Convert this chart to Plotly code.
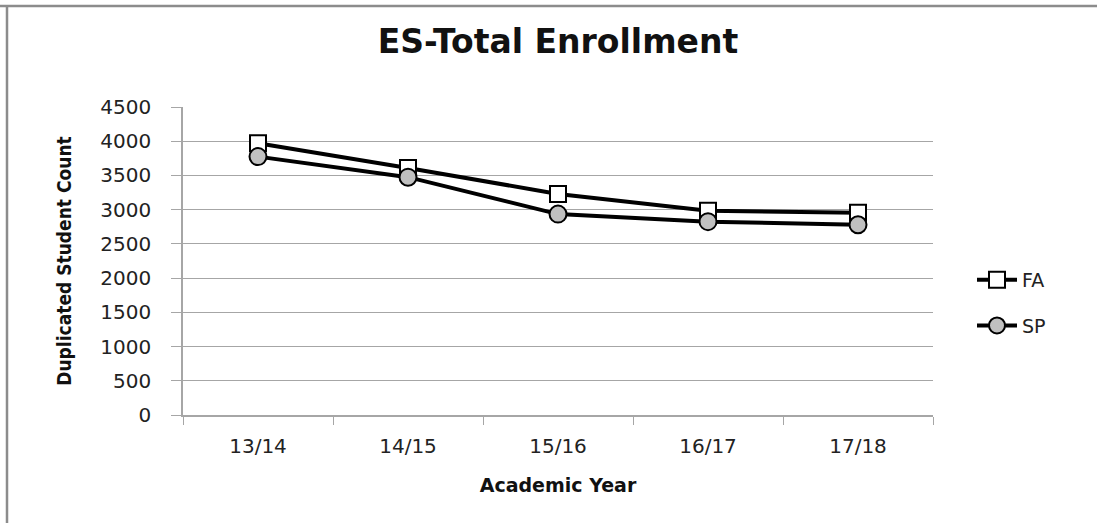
import plotly.graph_objects as go

# Academic years on the category axis
years = ["13/14", "14/15", "15/16", "16/17", "17/18"]

# Duplicated student count per term
fa_counts = [3970, 3610, 3230, 2985, 2955]
sp_counts = [3775, 3475, 2935, 2825, 2780]

y_ticks = [0, 500, 1000, 1500, 2000, 2500, 3000, 3500, 4000, 4500]

fig = go.Figure()

fig.add_trace(go.Scatter(
    x=years, y=fa_counts, name="FA", mode="lines+markers",
    legendgroup="fa",
    line=dict(color="#000000", width=4),
    marker=dict(symbol="square", size=16, color="#ffffff",
                line=dict(color="#000000", width=2)),
))
fig.add_trace(go.Scatter(
    x=years, y=sp_counts, name="SP", mode="lines+markers",
    legendgroup="sp",
    line=dict(color="#000000", width=4),
    marker=dict(symbol="circle", size=17, color="#c0c0c0",
                line=dict(color="#000000", width=2)),
))

grey = "#a6a6a6"

fig.update_layout(
    width=1097, height=523,
    margin=dict(l=183, r=164, t=107, b=108),
    paper_bgcolor="#ffffff", plot_bgcolor="#ffffff",
    font=dict(family="DejaVu Sans", color="#222222"),
    title=dict(text="<b>ES-Total Enrollment</b>",
               font=dict(family="DejaVu Sans", size=33, color="#111111"),
               x=0.5, xref="paper", xanchor="center",
               y=1.0 - 41 / 523, yref="container", yanchor="middle"),
    showlegend=True,
    legend=dict(x=1.052, xanchor="left", y=0.364, yanchor="middle",
                font=dict(family="DejaVu Sans", size=19, color="#222222"),
                bgcolor="rgba(0,0,0,0)", tracegroupgap=18,
                traceorder="grouped", itemwidth=40),
    xaxis=dict(
        type="category", categoryorder="array", categoryarray=years,
        tickson="boundaries", ticks="outside", ticklen=8, tickcolor=grey,
        showline=True, linecolor=grey, linewidth=1.5,
        showgrid=False, zeroline=False, ticklabelstandoff=12,
        tickfont=dict(family="DejaVu Sans", size=20, color="#222222"),
        range=[-0.5, len(years) - 0.5],
        title=dict(text="<b>Academic Year</b>", standoff=22,
                   font=dict(family="DejaVu Sans", size=19, color="#111111")),
    ),
    yaxis=dict(
        range=[0, 4500], tickvals=y_ticks,
        ticks="outside", ticklen=10, tickcolor=grey,
        showline=True, linecolor=grey, linewidth=1.5,
        showgrid=True, gridcolor=grey, gridwidth=1,
        zeroline=False, ticklabelstandoff=16,
        tickfont=dict(family="DejaVu Sans", size=20, color="#222222"),
        title=dict(text="<b>Duplicated Student Count</b>", standoff=24,
                   font=dict(family="Liberation Sans Narrow, DejaVu Sans Condensed, Liberation Sans",
                             size=19, color="#111111")),
    ),
)

# Frame edges along the top and left of the chart area
fig.add_shape(type="line", xref="paper", yref="paper",
              x0=(0 - 183) / 750, x1=(1097 - 183) / 750,
              y0=(415 - 6) / 308, y1=(415 - 6) / 308,
              line=dict(color="#8c8c8c", width=2.5))
fig.add_shape(type="line", xref="paper", yref="paper",
              x0=(7 - 183) / 750, x1=(7 - 183) / 750,
              y0=(415 - 6) / 308, y1=(415 - 523) / 308,
              line=dict(color="#8c8c8c", width=2.5))

fig.write_html("out.html")
